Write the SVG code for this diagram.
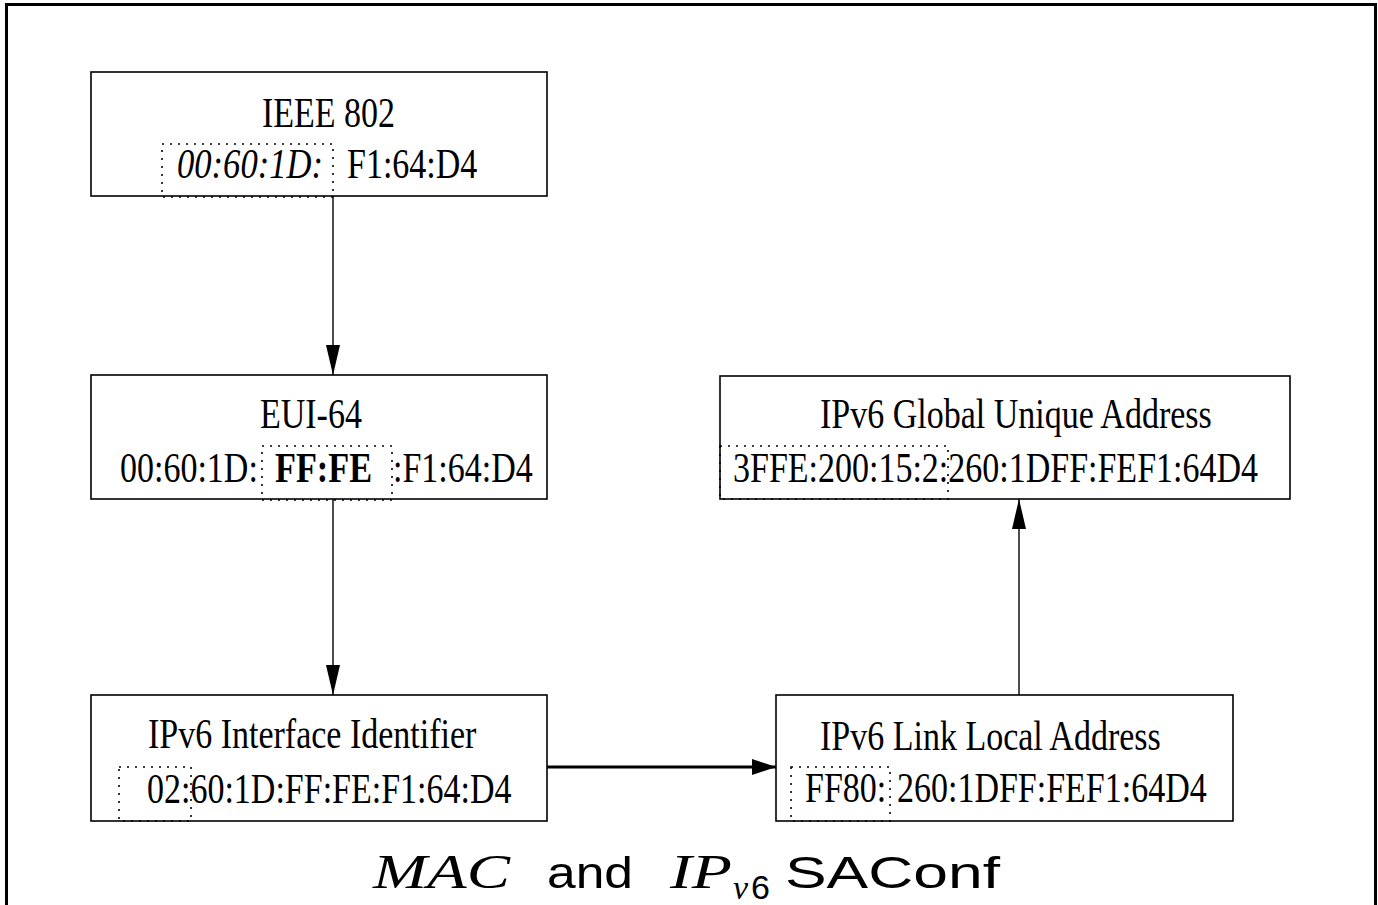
<svg xmlns="http://www.w3.org/2000/svg" width="1378" height="905" viewBox="0 0 1378 905">
<style>
.box{fill:#fff;stroke:#000;stroke-width:1.6}
.dot{fill:none;stroke:#000;stroke-width:1.6;stroke-dasharray:2 6}
.t{font-family:"Liberation Serif","Times New Roman",serif;font-size:34px;fill:#000}
.it{font-style:italic}
.b{font-weight:bold}
.line{stroke:#000;stroke-width:1.4;fill:none}
.thick{stroke:#000;stroke-width:3;fill:none}
.cap{font-family:"Liberation Sans",Arial,sans-serif;font-size:45px;fill:#000}
.capi{font-family:"Liberation Serif","Times New Roman",serif;font-style:italic;font-size:48px;fill:#000}
</style>
<defs>
<marker id="ah" markerUnits="userSpaceOnUse" markerWidth="30" markerHeight="14" refX="30" refY="7" orient="auto" viewBox="0 0 30 14">
<path d="M0,0 L30,7 L0,14 z" fill="#000"/>
</marker>
<marker id="ah2" markerUnits="userSpaceOnUse" markerWidth="24" markerHeight="16" refX="24" refY="8" orient="auto" viewBox="0 0 24 16">
<path d="M0,0 L24,8 L0,16 z" fill="#000"/>
</marker>
</defs>
<rect width="1378" height="905" fill="#fff"/>
<path d="M6.5,905 V4.5 H1375.5 V905" fill="none" stroke="#000" stroke-width="3"/>

<g id="connectors">
<line class="line" x1="333" y1="196" x2="333" y2="375" marker-end="url(#ah)"/>
<line class="line" x1="333" y1="499" x2="333" y2="695" marker-end="url(#ah)"/>
<line class="thick" x1="547" y1="767" x2="776" y2="767" marker-end="url(#ah2)"/>
<line class="line" x1="1019" y1="695" x2="1019" y2="499" marker-end="url(#ah)"/>
</g>

<g id="ieee802">
<rect class="box" x="91" y="72" width="456" height="124"/>
<text class="t" x="262" transform="matrix(1 0 0 1.25 0 127)">IEEE 802</text>
<text class="t it" x="177" textLength="146" lengthAdjust="spacingAndGlyphs" transform="matrix(1 0 0 1.25 0 178)">00:60:1D:</text>
<text class="t" x="347" transform="matrix(1 0 0 1.25 0 178)">F1:64:D4</text>
<rect class="dot" x="162" y="144" width="171" height="53"/>
</g>

<g id="eui64">
<rect class="box" x="91" y="375" width="456" height="124"/>
<text class="t" x="260" transform="matrix(1 0 0 1.25 0 428)">EUI-64</text>
<text class="t" x="120" transform="matrix(1 0 0 1.25 0 482)">00:60:1D:</text>
<text class="t b" x="275" textLength="97" lengthAdjust="spacingAndGlyphs" transform="matrix(1 0 0 1.25 0 482)">FF:FE</text>
<text class="t" x="393" transform="matrix(1 0 0 1.25 0 482)">:F1:64:D4</text>
<rect class="dot" x="262" y="446" width="130" height="54"/>
</g>

<g id="ifid">
<rect class="box" x="91" y="695" width="456" height="126"/>
<text class="t" x="148" transform="matrix(1 0 0 1.25 0 748)">IPv6 Interface Identifier</text>
<text class="t" x="147" transform="matrix(1 0 0 1.25 0 803)">02:60:1D:FF:FE:F1:64:D4</text>
<rect class="dot" x="119" y="767" width="72" height="54"/>
</g>

<g id="global">
<rect class="box" x="720" y="376" width="570" height="123"/>
<text class="t" x="820" transform="matrix(1 0 0 1.25 0 428)">IPv6 Global Unique Address</text>
<text class="t" x="733" transform="matrix(1 0 0 1.25 0 482)">3FFE:200:15:2:260:1DFF:FEF1:64D4</text>
<rect class="dot" x="720" y="446" width="228" height="53"/>
</g>

<g id="linklocal">
<rect class="box" x="776" y="695" width="457" height="126"/>
<text class="t" x="820" transform="matrix(1 0 0 1.25 0 750)">IPv6 Link Local Address</text>
<text class="t" x="805" transform="matrix(1 0 0 1.25 0 802)">FF80:</text>
<text class="t" x="897" transform="matrix(1 0 0 1.25 0 802)">260:1DFF:FEF1:64D4</text>
<rect class="dot" x="791" y="767" width="99" height="54"/>
</g>

<g id="caption">
<text class="capi" x="373" y="888" textLength="137" lengthAdjust="spacingAndGlyphs">MAC</text>
<text class="cap" x="547" y="888" textLength="86" lengthAdjust="spacingAndGlyphs">and</text>
<text class="capi" x="670" y="888" textLength="62" lengthAdjust="spacingAndGlyphs">IP</text>
<text class="capi" x="733" y="899" style="font-size:34px">v</text>
<text class="cap" x="751" y="899" style="font-size:34px">6</text>
<text class="cap" x="785" y="888" textLength="215" lengthAdjust="spacingAndGlyphs">SAConf</text>
</g>
</svg>
